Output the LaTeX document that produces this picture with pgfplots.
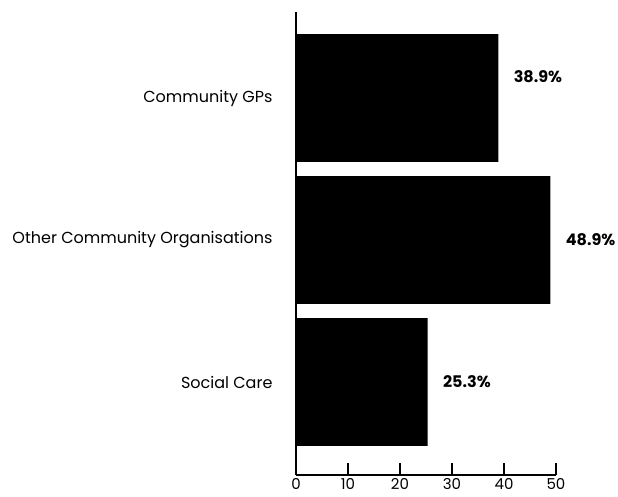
\documentclass[border=0pt]{standalone}
\usepackage{pgfplots}
\pgfplotsset{compat=1.18}
\usepackage{pgfplotstable}
\usepackage{fontspec}
\setmainfont{Poppins}

\pgfplotstableread{
x    y  dy
25.3 0  0
48.9 1  0
38.9 2  21
}\shares

\begin{document}
\begin{tikzpicture}
\begin{axis}[
  scale only axis,
  width=260pt, height=463pt,
  xmin=0, xmax=50,
  ymin=-0.655, ymax=2.606,
  axis x line*=bottom,
  axis y line*=left,
  axis line style={line width=1.6pt, black},
  xtick={0,10,20,30,40,50},
  tick align=inside,
  major tick length=12pt,
  x tick style={line width=1.6pt, black},
  ytick={0,1,2},
  yticklabels={Social Care, Other Community Organisations, Community GPs},
  y tick style={draw=none},
  yticklabel style={xshift=-8pt, font=\fontsize{16}{18}\selectfont},
  xticklabel style={yshift=0pt, font=\fontsize{15}{18}\selectfont},
  /pgf/number format/assume math mode=true,
  xbar, bar width=0.9,
  clip=false,
]
\addplot[fill=black, draw=none,
  visualization depends on={\thisrow{dy} \as \dy},
  nodes near coords={\pgfmathprintnumber[fixed,precision=1,fixed zerofill]{\pgfplotspointmeta}\%},
  point meta=explicit symbolic,
  every node near coord/.append style={anchor=west, xshift=12pt, yshift=\dy pt,
    font=\fontsize{16}{18}\selectfont\bfseries},
] table[x=x, y=y, meta=x] {\shares};
\coordinate (bl) at (rel axis cs:0,0);
\end{axis}
\pgfresetboundingbox
\path (bl) ++(-296pt,-22pt) rectangle ++(618pt,497pt);
\end{tikzpicture}
\end{document}
